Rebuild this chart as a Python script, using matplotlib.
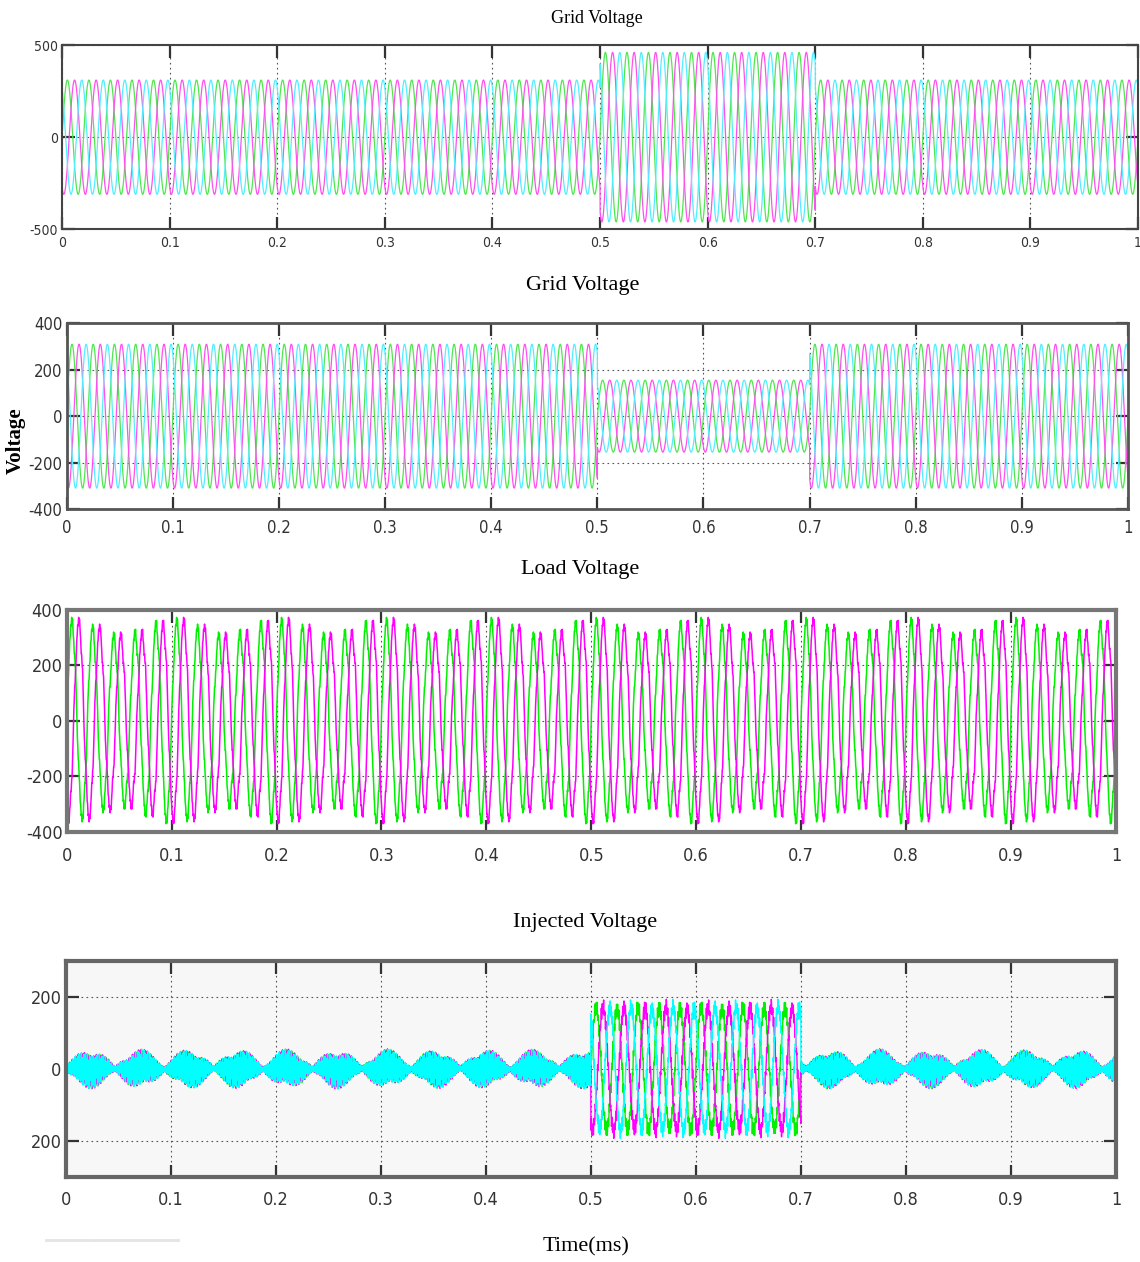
# -*- coding: utf-8 -*-
"""
Grid / load / injected voltage waveforms (DVR sag-swell test)
"""

import numpy as np
import matplotlib.pyplot as plt

plt.rcParams['axes.unicode_minus'] = False

# ---- data ----
f_grid = 50.0                       # supply frequency (cycles per time unit)
t_events = [0.5, 0.7]               # disturbance start / end
phase_deg = [0, -120, 120]          # green, magenta, cyan phases

grid1_amp = [310, 460, 310]         # swell: before, during, after
grid2_amp = [310, 155, 310]         # sag: before, during, after

load_amp = 330
load_harm_order = [1.2, 5, 7, 21]   # distortion components (multiples of f_grid)
load_harm_amp = [28, 16, 10, 9]

inj_env_period = 0.047              # ripple envelope lobe period outside the event
inj_env_min = 6
inj_env_max = 50
inj_carrier_freq = [870, 1390, 2230]
inj_carrier_w = [0.6, 0.3, 0.22]
inj_event_amp = 170                 # injected voltage during the sag
inj_event_ripple = 22

x_ticks = [0, 0.1, 0.2, 0.3, 0.4, 0.5, 0.6, 0.7, 0.8, 0.9, 1]
x_tick_labels = ['0', '0.1', '0.2', '0.3', '0.4', '0.5', '0.6', '0.7', '0.8', '0.9', '1']

cols_light = ['#4fe64f', '#ff4ff0', '#52eeff']
cols_bright = ['#00f000', '#ff00ff', '#00ffff']

t = np.linspace(0, 1, 40001)
w = 2 * np.pi * f_grid


def stepAmp(amps):
    idx = np.searchsorted(t_events, t, side='right')
    return np.array(amps, dtype=float)[idx]


tick_font = ['DejaVu Sans']
title_font = ['Liberation Serif', 'DejaVu Serif']

fig = plt.figure(figsize=(11.4, 12.62), dpi=100)


def styleAx(ax, yticks, ylabels, ylim, tsize, spine_c, spine_w, xpad):
    ax.set_xlim(0, 1)
    ax.set_ylim(ylim)
    ax.set_xticks(x_ticks)
    ax.set_xticklabels(x_tick_labels, family=tick_font, fontstretch='condensed',
                       fontsize=tsize, color='#333333')
    ax.set_yticks(yticks)
    ax.set_yticklabels(ylabels, family=tick_font, fontstretch='condensed',
                       fontsize=tsize, color='#333333')
    ax.tick_params(direction='in', top=True, right=True, length=9, width=1.6,
                   color='#333333', pad=3)
    ax.tick_params(axis='x', pad=xpad)
    ax.grid(True, color='#555555', linestyle=(0, (1.5, 3)), linewidth=0.8)
    for s in ax.spines.values():
        s.set_color(spine_c)
        s.set_linewidth(spine_w)


# Panel 1: grid voltage with swell
ax1 = fig.add_axes([0.0544, 0.8183, 0.9439, 0.1460])
a1 = stepAmp(grid1_amp)
for i in range(3):
    ax1.plot(t, a1 * np.sin(w * t + np.radians(phase_deg[i])), color=cols_light[i], lw=0.9)
styleAx(ax1, [-500, 0, 500], ['-500', '0', '500'], (-500, 500), 10, '#444444', 1.5, 5)
fig.text(0.524, 0.985, 'Grid Voltage', ha='center', va='center', family=title_font, fontsize=13)

# Panel 2: grid voltage with sag
ax2 = fig.add_axes([0.0585, 0.5967, 0.9310, 0.1471])
a2 = stepAmp(grid2_amp)
for i in range(3):
    ax2.plot(t, a2 * np.sin(w * t + np.radians(phase_deg[i])), color=cols_light[i], lw=0.9)
styleAx(ax2, [-400, -200, 0, 200, 400], ['-400', '-200', '0', '200', '400'], (-400, 400),
        12, '#555555', 2.0, 7)
fig.text(0.511, 0.774, 'Grid Voltage', ha='center', va='center', family=title_font, fontsize=16)
fig.text(0.014, 0.651, 'Voltage', ha='center', va='center', rotation=90,
         family=title_font, fontsize=15, fontweight='bold')

# Panel 3: load voltage
ax3 = fig.add_axes([0.0585, 0.3410, 0.9204, 0.1757])
for i in range(2):
    ph = np.radians(phase_deg[i])
    v = load_amp * np.sin(w * t + ph)
    for k in range(len(load_harm_order)):
        v = v + load_harm_amp[k] * np.sin(load_harm_order[k] * (w * t + ph) + 0.7 * k)
    ax3.plot(t, v, color=cols_bright[i], lw=1.1)
styleAx(ax3, [-400, -200, 0, 200, 400], ['-400', '-200', '0', '200', '400'], (-400, 400),
        13, '#777777', 3.0, 11)
fig.text(0.509, 0.549, 'Load Voltage', ha='center', va='center', family=title_font, fontsize=16)

# Panel 4: injected voltage
ax4 = fig.add_axes([0.0576, 0.0676, 0.9213, 0.1709])
ax4.set_facecolor('#f7f7f7')
inEvent = (t >= t_events[0]) & (t < t_events[1])
env = inj_env_min + (inj_env_max - inj_env_min) * np.abs(np.sin(np.pi * t / inj_env_period))
for i in range(3):
    ph = np.radians(phase_deg[i])
    carrier = np.zeros_like(t)
    for k in range(len(inj_carrier_freq)):
        carrier = carrier + inj_carrier_w[k] * np.sin(2 * np.pi * inj_carrier_freq[k] * t + ph * (k + 1))
    ripple = env * carrier
    event = inj_event_amp * np.sin(w * t + ph) + inj_event_ripple * carrier
    ax4.plot(t, np.where(inEvent, event, ripple), color=cols_bright[i], lw=1.0)
styleAx(ax4, [-200, 0, 200], ['200', '0', '200'], (-300, 300), 13, '#666666', 3.0, 10)
fig.text(0.513, 0.269, 'Injected Voltage', ha='center', va='center', family=title_font, fontsize=16)
fig.text(0.514, 0.012, 'Time(ms)', ha='center', va='center', family=title_font, fontsize=16)

# faint bars left over at the bottom left of the original
fig.add_artist(plt.Line2D([0.040, 0.077], [0.0174, 0.0174], color='#e4e4e4', lw=2))
fig.add_artist(plt.Line2D([0.080, 0.156], [0.0174, 0.0174], color='#e4e4e4', lw=2))

fig.savefig('out.png', dpi=100)
